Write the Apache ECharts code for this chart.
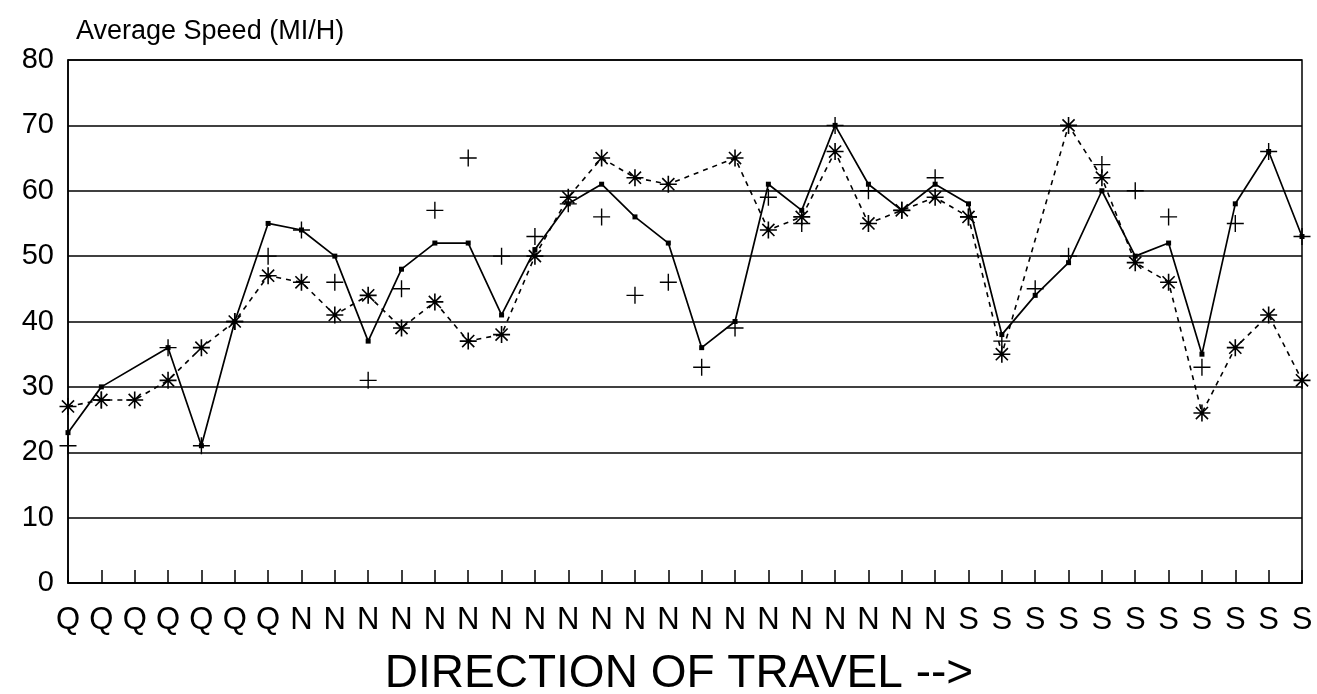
<!DOCTYPE html>
<html>
<head>
<meta charset="utf-8">
<script src="https://cdn.jsdelivr.net/npm/echarts@6/dist/echarts.min.js"></script>
<style>
html,body{margin:0;padding:0;background:#fff;}
#chart{width:1317px;height:694px;}
</style>
</head>
<body>
<div id="chart"></div>
<script>
// Direction of travel for each observation
const categories = [
  'Q','Q','Q','Q','Q','Q','Q',
  'N','N','N','N','N','N','N','N','N','N','N','N','N','N','N','N','N','N','N','N',
  'S','S','S','S','S','S','S','S','S','S','S'
];
// Solid line with dot markers
const solidSeries = [23, 30, null, 36, 21, 40, 55, 54, 50, 37, 48, 52, 52, 41, 51, 58, 61, 56, 52, 36,
  40, 61, 57, 70, 61, 57, 61, 58, 38, 44, 49, 60, 50, 52, 35, 58, 66, 53];
// Dashed line with asterisk markers
const dashedSeries = [27, 28, 28, 31, 36, 40, 47, 46, 41, 44, 39, 43, 37, 38, 50, 59, 65, 62, 61, null,
  65, 54, 56, 66, 55, 57, 59, 56, 35, null, 70, 62, 49, 46, 26, 36, 41, 31];
// Plus markers (no line)
const plusSeries = [21, 28, null, 36, 21, 40, 50, 54, 46, 31, 45, 57, 65, 50, 53, 58, 56, 44, 46, 33,
  39, 59, 55, 70, 60, 57, 62, 56, 37, 45, 50, 64, 60, 56, 33, 55, 66, 53];
const yTicks = [0, 10, 20, 30, 40, 50, 60, 70, 80];

const FONT = '"Liberation Sans", Arial, Helvetica, sans-serif';
const asteriskPath = 'path://M8 0 L8 16 M0 8 L16 8 M2.3 2.3 L13.7 13.7 M13.7 2.3 L2.3 13.7';
const plusPath = 'path://M8 0 L8 16 M0 8 L16 8';

const chart = echarts.init(document.getElementById('chart'), null, {renderer: 'canvas'});
chart.setOption({
  backgroundColor: '#fff',
  animation: false,
  title: {
    text: 'Average Speed (MI/H)',
    left: 71, top: 13,
    textStyle: {fontFamily: FONT, fontSize: 27, fontWeight: 'normal', color: '#000'}
  },
  grid: {left: 68, right: 15, top: 60, bottom: 111, show: true, borderColor: '#000', borderWidth: 1.5,
    containLabel: false, outerBoundsMode: 'none'},
  xAxis: {
    type: 'category',
    data: categories,
    boundaryGap: false,
    name: 'DIRECTION OF TRAVEL -->',
    nameLocation: 'middle',
    nameGap: 68,
    nameTextStyle: {fontFamily: FONT, fontSize: 46, color: '#000', padding: [0, 12, 0, 0]},
    axisLine: {lineStyle: {color: '#000', width: 1.5}},
    axisTick: {show: true, inside: true, length: 13, interval: 0, lineStyle: {color: '#000', width: 1.5}},
    axisLabel: {interval: 0, margin: 22, fontFamily: FONT, fontSize: 31, color: '#000'},
    splitLine: {show: false}
  },
  yAxis: {
    type: 'value',
    min: yTicks[0], max: yTicks[yTicks.length - 1], interval: 10,
    axisLine: {show: true, lineStyle: {color: '#000', width: 1.5}},
    axisTick: {show: false},
    axisLabel: {margin: 14, fontFamily: FONT, fontSize: 29, color: '#000'},
    splitLine: {show: true, lineStyle: {color: '#000', width: 1.5}}
  },
  series: [
    {
      type: 'line',
      data: dashedSeries,
      connectNulls: true,
      symbol: asteriskPath,
      symbolSize: 17,
      itemStyle: {color: 'rgba(0,0,0,0)', borderColor: '#000', borderWidth: 1.6},
      lineStyle: {color: '#000', width: 1.6, type: [5, 5]},
      z: 3
    },
    {
      type: 'line',
      data: solidSeries,
      connectNulls: true,
      symbol: 'rect',
      symbolSize: 5,
      itemStyle: {color: '#000'},
      lineStyle: {color: '#000', width: 1.7},
      z: 4
    },
    {
      type: 'scatter',
      data: plusSeries,
      symbol: plusPath,
      symbolSize: 17,
      itemStyle: {color: 'rgba(0,0,0,0)', borderColor: '#000', borderWidth: 1.4, opacity: 1},
      z: 5
    }
  ]
});
</script>
</body>
</html>
